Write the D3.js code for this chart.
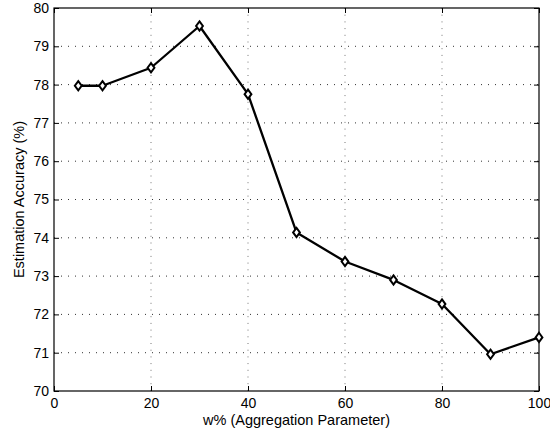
<!DOCTYPE html>
<html>
<head>
<meta charset="utf-8">
<script src="https://cdn.jsdelivr.net/npm/d3@7"></script>
<style>
  body { margin: 0; background: #fff; }
  svg text { font-family: "Liberation Sans", Arial, sans-serif; fill: #000; }
</style>
</head>
<body>
<div id="chart"></div>
<script>
// aggregation parameter w% and estimation accuracy
const wValues = [5, 10, 20, 30, 40, 50, 60, 70, 80, 90, 100];
const accuracy = [77.97, 77.97, 78.44, 79.53, 77.75, 74.14, 73.38, 72.90, 72.27, 70.96, 71.40];
const xTicks = [0, 20, 40, 60, 80, 100];
const yTicks = [70, 71, 72, 73, 74, 75, 76, 77, 78, 79, 80];

const width = 550, height = 437;
const margin = { top: 8, right: 11, bottom: 46, left: 54 };
const innerW = width - margin.left - margin.right;
const innerH = height - margin.top - margin.bottom;

const svg = d3.select("#chart").append("svg")
    .attr("width", width)
    .attr("height", height);

const g = svg.append("g")
    .attr("transform", `translate(${margin.left},${margin.top})`);

const x = d3.scaleLinear().domain([0, 100]).range([0, innerW]);
const y = d3.scaleLinear().domain([70, 80]).range([innerH, 0]);

// dotted grid
g.append("g").selectAll("line")
    .data(xTicks.slice(1, -1))
    .enter().append("line")
    .attr("x1", d => x(d)).attr("x2", d => x(d))
    .attr("y1", 0).attr("y2", innerH)
    .attr("stroke", "#777").attr("stroke-width", 1)
    .attr("stroke-dasharray", "1,5.7");

g.append("g").selectAll("line")
    .data(yTicks.slice(1, -1))
    .enter().append("line")
    .attr("x1", 0).attr("x2", innerW)
    .attr("y1", d => y(d)).attr("y2", d => y(d))
    .attr("stroke", "#333").attr("stroke-width", 1)
    .attr("stroke-dasharray", "1,6");

// axes (ticks point inward, like matlab)
const styleAxis = sel => {
    sel.select(".domain").remove();
    sel.selectAll(".tick line").attr("stroke", "#000");
    sel.selectAll("text").style("font-size", "14px");
};

g.append("g")
    .attr("transform", `translate(0,${innerH})`)
    .call(d3.axisBottom(x).tickValues(xTicks).tickSize(-5).tickPadding(7))
    .call(styleAxis);

g.append("g")
    .call(d3.axisTop(x).tickValues(xTicks).tickSize(-5).tickFormat(""))
    .call(styleAxis);

g.append("g")
    .call(d3.axisLeft(y).tickValues(yTicks).tickSize(-5).tickPadding(5))
    .call(styleAxis);

g.append("g")
    .attr("transform", `translate(${innerW},0)`)
    .call(d3.axisRight(y).tickValues(yTicks).tickSize(-5).tickFormat(""))
    .call(styleAxis);

g.append("rect")
    .attr("width", innerW).attr("height", innerH)
    .attr("fill", "none").attr("stroke", "#000").attr("stroke-width", 1.2);

// data line
const pts = wValues.map((w, i) => ({ w: w, v: accuracy[i] }));

g.append("path")
    .datum(pts)
    .attr("fill", "none")
    .attr("stroke", "#000")
    .attr("stroke-width", 2.3)
    .attr("stroke-linejoin", "round")
    .attr("d", d3.line().x(d => x(d.w)).y(d => y(d.v)));

g.selectAll(".marker")
    .data(pts)
    .enter().append("path")
    .attr("class", "marker")
    .attr("transform", d => `translate(${x(d.w)},${y(d.v)})`)
    .attr("d", "M0,-4.6L3.4,0L0,4.6L-3.4,0Z")
    .attr("fill", "#fff")
    .attr("stroke", "#000")
    .attr("stroke-width", 2);

// labels
svg.append("text")
    .attr("x", margin.left + innerW / 2)
    .attr("y", 425)
    .attr("text-anchor", "middle")
    .style("font-size", "14.5px")
    .text("w% (Aggregation Parameter)");

svg.append("text")
    .attr("transform", `translate(24,${margin.top + innerH / 2}) rotate(-90)`)
    .attr("text-anchor", "middle")
    .style("font-size", "14.5px")
    .text("Estimation Accuracy (%)");
</script>
</body>
</html>
